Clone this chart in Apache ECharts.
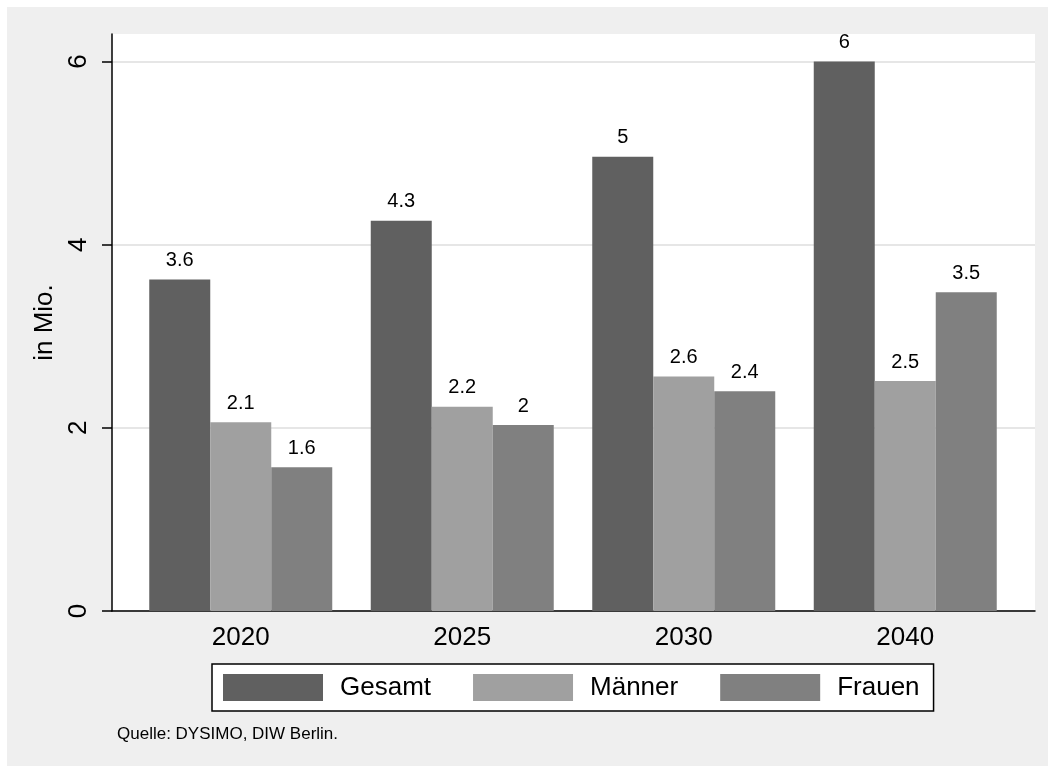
<!DOCTYPE html>
<html>
<head>
<meta charset="utf-8">
<script src="https://cdn.jsdelivr.net/npm/echarts@6/dist/echarts.min.js"></script>
<style>
  html, body { margin: 0; padding: 0; background: #fff; }
  #main { width: 1048px; height: 766px; background: #efefef; box-shadow: inset 7px 7px 0 #fff; }
</style>
</head>
<body>
<div id="main"></div>
<script>
const years = ['2020', '2025', '2030', '2040'];
const gesamt = [3.62, 4.26, 4.96, 6.0];
const maenner = [2.06, 2.23, 2.56, 2.51];
const frauen = [1.57, 2.03, 2.40, 3.48];
const yTicks = [0, 2, 4, 6];
const seriesNames = ['Gesamt', 'Männer', 'Frauen'];
const seriesColors = ['#606060', '#a0a0a0', '#808080'];

const font = 'Liberation Sans, Arial, sans-serif';
const yMax = 6.3;

let myChart = echarts.init(document.getElementById('main'));

const barLabel = {
    show: true,
    position: 'top',
    distance: 9,
    color: '#000',
    fontSize: 20,
    fontFamily: font,
    formatter: p => String(+p.value.toFixed(1))
};

const makeBar = (i, data) => ({
    name: seriesNames[i],
    type: 'bar',
    xAxisIndex: 1,
    yAxisIndex: 1,
    data: data,
    barWidth: 61,
    barGap: '0%',
    itemStyle: { color: seriesColors[i] },
    label: barLabel
});

var option = {
    backgroundColor: 'transparent',
    textStyle: { fontFamily: font, color: '#000' },
    animation: false,
    // 0: plot frame with axes, 1: bars (narrower, like Stata's range)
    grid: [
        { left: 112, right: 13, top: 34, bottom: 155, show: true, backgroundColor: '#fff', borderWidth: 0 },
        { left: 130, right: 32, top: 34, bottom: 155 }
    ],
    legend: {
        data: seriesNames,
        left: 212,
        top: 664,
        orient: 'horizontal',
        backgroundColor: '#fff',
        borderColor: '#000',
        borderWidth: 1.5,
        borderRadius: 0,
        padding: [10, 14, 10, 11],
        itemWidth: 100,
        itemHeight: 27,
        itemGap: 42,
        icon: 'rect',
        textStyle: { fontSize: 26, fontFamily: font, color: '#000', padding: [0, 0, 0, 12] }
    },
    xAxis: [
        {
            gridIndex: 0, type: 'value', min: 0, max: 1,
            axisLine: { show: true, lineStyle: { color: '#000', width: 1.5 } },
            axisTick: { show: false }, axisLabel: { show: false }, splitLine: { show: false }
        },
        {
            gridIndex: 1, type: 'category', data: years,
            axisLine: { show: false }, axisTick: { show: false },
            axisLabel: { fontSize: 26, fontFamily: font, color: '#000', margin: 14 }
        }
    ],
    yAxis: [
        {
            gridIndex: 0, type: 'value', min: 0, max: yMax, interval: 2,
            name: 'in Mio.',
            nameLocation: 'middle',
            nameGap: 53,
            nameTextStyle: { fontSize: 26, fontFamily: font, color: '#000' },
            axisLine: { show: true, lineStyle: { color: '#000', width: 1.5 } },
            axisTick: { show: true, length: 10, customValues: yTicks, lineStyle: { color: '#000', width: 1.5 } },
            axisLabel: {
                rotate: 90, fontSize: 26, fontFamily: font, color: '#000', margin: 20,
                customValues: yTicks
            },
            splitLine: { show: true, lineStyle: { color: '#e6e6e6', width: 2 } }
        },
        {
            gridIndex: 1, type: 'value', min: 0, max: yMax, show: false
        }
    ],
    series: [
        makeBar(0, gesamt),
        makeBar(1, maenner),
        makeBar(2, frauen)
    ],
    graphic: [
        {
            type: 'text', left: 117, top: 726,
            style: { text: 'Quelle: DYSIMO, DIW Berlin.', fontSize: 17, fontFamily: font, fill: '#000' }
        }
    ]
};

myChart.setOption(option);
</script>
</body>
</html>
